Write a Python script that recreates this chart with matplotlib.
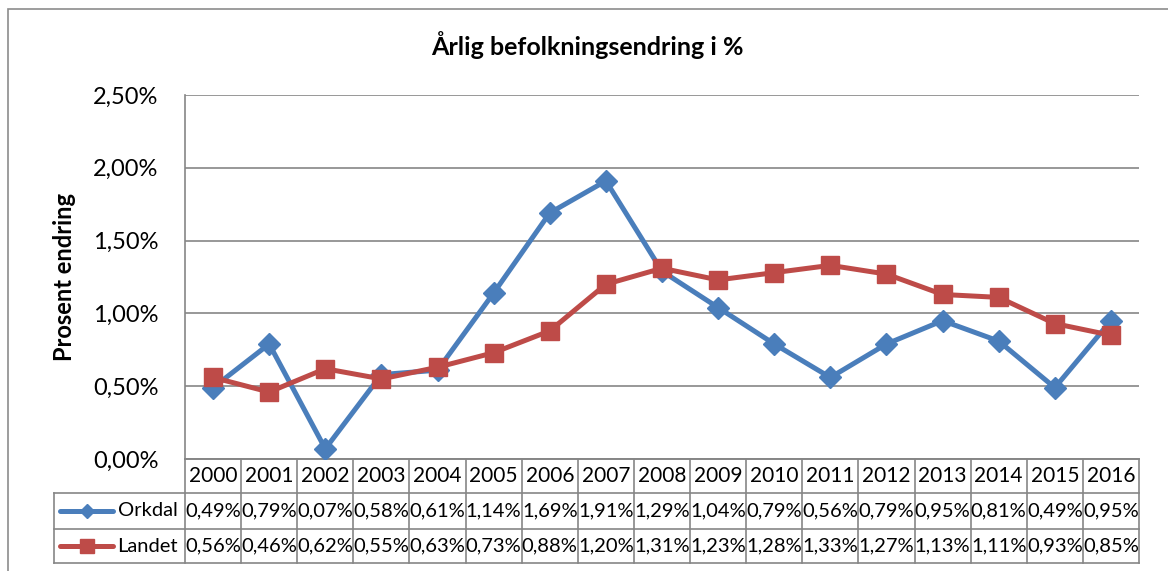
import matplotlib.pyplot as plt
import matplotlib.transforms as mtransforms
from matplotlib.patches import Rectangle
from matplotlib.lines import Line2D

plt.rcParams['font.family'] = ['Lato', 'DejaVu Sans']

years = [str(y) for y in range(2000, 2017)]
orkdal = [0.49, 0.79, 0.07, 0.58, 0.61, 1.14, 1.69, 1.91, 1.29, 1.04, 0.79, 0.56, 0.79, 0.95, 0.81, 0.49, 0.95]
landet = [0.56, 0.46, 0.62, 0.55, 0.63, 0.73, 0.88, 1.20, 1.31, 1.23, 1.28, 1.33, 1.27, 1.13, 1.11, 0.93, 0.85]
series_names = ["Orkdal", "Landet"]
yticks = [0.0, 0.5, 1.0, 1.5, 2.0, 2.5]

BLUE = "#4A7EBB"
RED = "#BE4B48"
GRID = "#868686"

W, H = 1168, 571
fig = plt.figure(figsize=(W / 100, H / 100), dpi=100)

# outer chart border (Excel chart area)
fig.patches.append(Rectangle((8 / W, -0.1), 1.2, 1 - 9 / H + 0.1, transform=fig.transFigure,
                             fill=False, edgecolor="#8c8c8c", lw=1.2))

left, right, top, bottom = 185, 1139, 95, 459
ax = fig.add_axes([left / W, 1 - bottom / H, (right - left) / W, (bottom - top) / H])

x = list(range(len(years)))
ax.plot(x, orkdal, color=BLUE, lw=3.6, marker="D", ms=11, zorder=3)
ax.plot(x, landet, color=RED, lw=3.6, marker="s", ms=13, zorder=4)

ax.set_xlim(-0.5, len(years) - 0.5)
ax.set_ylim(0, 2.5)
ax.set_yticks(yticks)
ax.set_yticklabels([f"{v:.2f}%".replace(".", ",") for v in yticks], fontsize=17)
ax.set_xticks([])
ax.grid(axis="y", color=GRID, lw=1.2)
ax.set_axisbelow(True)
for s in ["top", "right"]:
    ax.spines[s].set_visible(False)
for s in ["left", "bottom"]:
    ax.spines[s].set_color(GRID)
    ax.spines[s].set_linewidth(1.2)
ax.tick_params(axis="y", length=0, pad=19)

ax.set_ylabel("Prosent endring", fontsize=17, fontweight="bold", labelpad=12)
fig.text(587 / W, 1 - 45 / H, "Årlig befolkningsendring i %",
         ha="center", va="center", fontsize=18, fontweight="bold")

# data table below the axis
trans = mtransforms.blended_transform_factory(ax.transData, ax.transAxes)
axh = bottom - top
colw = (right - left) / len(years)
xl = -0.5 - (left - 54) / colw
xr = len(years) - 0.5
rows_y = [0, -(493 - bottom) / axh, -(529 - bottom) / axh, -(563 - bottom) / axh]
lc = dict(color=GRID, lw=1.2, transform=trans, clip_on=False)

# horizontal lines
ax.add_line(Line2D([-0.5, xr], [rows_y[0]] * 2, **lc))
for yy in rows_y[1:]:
    ax.add_line(Line2D([xl, xr], [yy] * 2, **lc))
# vertical lines
for i in range(len(years) + 1):
    ax.add_line(Line2D([i - 0.5] * 2, [rows_y[0], rows_y[3]], **lc))
ax.add_line(Line2D([xl] * 2, [rows_y[1], rows_y[3]], **lc))

def mid(a, b):
    return 0.5 * (a + b)

for i, yr in enumerate(years):
    ax.text(i, mid(rows_y[0], rows_y[1]), yr, ha="center", va="center", fontsize=15,
            transform=trans, clip_on=False)
for r, (vals, name, col, mk, ms) in enumerate(zip([orkdal, landet], series_names, [BLUE, RED],
                                                  ["D", "s"], [7, 10])):
    ym = mid(rows_y[r + 1], rows_y[r + 2])
    for i, v in enumerate(vals):
        ax.text(i, ym, f"{v:.2f}%".replace(".", ","), ha="center", va="center", fontsize=14.5,
                transform=trans, clip_on=False)
    x0 = xl + (60 - 54) / colw
    x1 = xl + (113 - 54) / colw
    ax.add_line(Line2D([x0, x1], [ym, ym], color=col, lw=3.6, transform=trans, clip_on=False,
                       solid_capstyle="round"))
    ax.add_line(Line2D([mid(x0, x1)], [ym], color=col, marker=mk, ms=ms, lw=0,
                       transform=trans, clip_on=False))
    ax.text(-0.5 - 7 / colw, ym, name, ha="right", va="center", fontsize=14.5,
            transform=trans, clip_on=False)

fig.savefig("out.png", dpi=100)
